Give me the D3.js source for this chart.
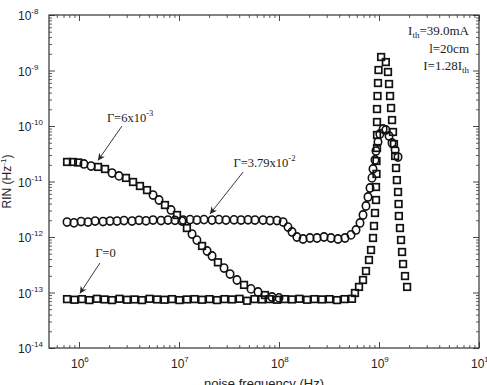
<!DOCTYPE html>
<html>
<head>
<meta charset="utf-8">
<script src="https://cdn.jsdelivr.net/npm/d3@7"></script>
<style>
  body { margin: 0; background: #fff; }
  svg { display: block; }
</style>
</head>
<body>
<div id="chart"></div>
<script>
'use strict'

// Γ = 0 (squares): flat floor then the relaxation oscillation peak
const gamma0 = [
  [7.59e5, 7.6e-14], [9.02e5, 7.4e-14], [1.07e6, 7.6e-14], [1.27e6, 7.3e-14], [1.51e6, 7.7e-14],
  [1.80e6, 7.5e-14], [2.14e6, 7.3e-14], [2.54e6, 7.7e-14], [3.02e6, 7.4e-14], [3.59e6, 7.5e-14],
  [4.27e6, 7.3e-14], [5.07e6, 7.7e-14], [6.03e6, 7.5e-14], [7.16e6, 7.4e-14], [8.51e6, 7.6e-14],
  [1.01e7, 7.3e-14], [1.20e7, 7.5e-14], [1.43e7, 7.6e-14], [1.70e7, 7.4e-14], [2.02e7, 7.6e-14],
  [2.40e7, 7.3e-14], [2.85e7, 7.6e-14], [3.39e7, 7.5e-14], [4.03e7, 7.7e-14], [4.79e7, 7.1e-14],
  [5.69e7, 7.6e-14], [6.76e7, 7.5e-14], [8.04e7, 7.6e-14], [9.55e7, 7.4e-14], [1.14e8, 7.6e-14],
  [1.35e8, 7.5e-14], [1.60e8, 7.7e-14], [1.91e8, 7.4e-14], [2.26e8, 7.6e-14], [2.69e8, 7.5e-14],
  [3.20e8, 7.6e-14], [3.80e8, 7.3e-14], [4.52e8, 7.6e-14], [5.37e8, 7.7e-14],
  [5.75e8, 9.8e-14], [6.31e8, 1.26e-13], [6.92e8, 1.68e-13], [7.41e8, 2.44e-13], [7.94e8, 3.85e-13],
  [8.32e8, 5.83e-13], [8.71e8, 9.6e-13], [8.91e8, 1.58e-12], [9.12e8, 2.71e-12], [9.33e8, 4.64e-12],
  [9.33e8, 7.96e-12], [9.44e8, 1.37e-11], [9.44e8, 2.34e-11], [9.55e8, 4.01e-11], [9.55e8, 6.88e-11],
  [9.55e8, 1.18e-10], [9.55e8, 2.02e-10], [9.66e8, 3.47e-10], [9.77e8, 5.95e-10], [9.89e8, 1.02e-9],
  [1.05e9, 1.75e-9], [1.17e9, 1.42e-9], [1.23e9, 9.4e-10], [1.26e9, 5.71e-10], [1.29e9, 3.47e-10],
  [1.32e9, 2.11e-10], [1.35e9, 1.28e-10], [1.38e9, 7.80e-11], [1.41e9, 4.74e-11], [1.45e9, 2.88e-11],
  [1.48e9, 1.75e-11], [1.51e9, 1.06e-11], [1.55e9, 6.47e-12], [1.57e9, 3.93e-12], [1.58e9, 2.39e-12],
  [1.62e9, 1.45e-12], [1.66e9, 8.83e-13], [1.70e9, 5.37e-13], [1.74e9, 3.26e-13], [1.82e9, 1.98e-13],
  [1.91e9, 1.26e-13]
]

// Γ = 6x10^-3: two overlapping runs, one drawn as squares, one as circles
const gamma6Sq = [
  [7.6e5, 2.25e-11], [8.7e5, 2.25e-11], [9.8e5, 2.2e-11], [1.55e6, 1.83e-11], [1.82e6, 1.68e-11],
  [2.95e6, 1.16e-11], [3.47e6, 9.8e-12], [4.07e6, 8.3e-12], [4.79e6, 7.0e-12], [7.24e6, 3.77e-12],
  [9.55e6, 2.49e-12], [1.20e7, 1.45e-12], [1.70e7, 6.9e-13], [2.45e7, 3.5e-13], [4.47e7, 1.37e-13],
  [7.24e7, 9.0e-14]
]
const gamma6Ci = [
  [1.12e6, 2.07e-11], [1.32e6, 1.90e-11], [2.14e6, 1.42e-11], [2.51e6, 1.26e-11], [5.5e6, 5.7e-12],
  [6.31e6, 4.64e-12], [8.32e6, 3.07e-12], [1.07e7, 1.94e-12], [1.35e7, 1.13e-12], [1.51e7, 8.8e-13],
  [1.91e7, 5.6e-13], [2.14e7, 4.55e-13], [2.82e7, 2.76e-13], [3.24e7, 2.15e-13], [3.80e7, 1.68e-13],
  [5.25e7, 1.16e-13], [6.17e7, 1.02e-13], [8.51e7, 8.3e-14], [1.0e8, 8.0e-14]
]

// Γ = 3.79x10^-2 (circles)
const gamma379 = [
  [7.59e5, 1.86e-12], [8.91e5, 1.80e-12], [1.05e6, 1.90e-12], [1.23e6, 1.86e-12], [1.45e6, 1.94e-12],
  [1.74e6, 1.90e-12], [2.04e6, 1.94e-12], [2.40e6, 1.94e-12], [2.82e6, 1.98e-12], [3.39e6, 1.94e-12],
  [3.98e6, 2.0e-12], [4.68e6, 1.96e-12], [5.50e6, 2.02e-12], [6.61e6, 1.98e-12], [7.76e6, 2.02e-12],
  [9.12e6, 2.0e-12], [1.10e7, 2.02e-12], [1.29e7, 2.06e-12], [1.51e7, 2.02e-12], [1.78e7, 2.06e-12],
  [2.14e7, 2.02e-12], [2.51e7, 2.06e-12], [2.95e7, 2.02e-12], [3.55e7, 2.04e-12], [4.17e7, 2.02e-12],
  [4.90e7, 2.04e-12], [5.75e7, 2.02e-12], [6.92e7, 2.02e-12], [8.13e7, 1.98e-12], [9.55e7, 1.98e-12],
  [1.10e8, 1.86e-12], [1.23e8, 1.51e-12], [1.35e8, 1.23e-12], [1.51e8, 1.00e-12], [1.74e8, 9.2e-13],
  [2.04e8, 9.6e-13], [2.40e8, 9.6e-13], [2.82e8, 1.00e-12], [3.31e8, 9.6e-13], [3.89e8, 9.2e-13],
  [4.57e8, 9.6e-13], [5.25e8, 1.09e-12], [5.89e8, 1.34e-12], [6.46e8, 1.79e-12], [6.92e8, 2.49e-12],
  [7.41e8, 3.62e-12], [7.76e8, 5.26e-12], [8.13e8, 7.64e-12], [8.51e8, 1.16e-11], [8.71e8, 1.68e-11],
  [9.12e8, 2.44e-11], [9.33e8, 3.54e-11], [9.77e8, 5.15e-11], [1.02e9, 7.18e-11], [1.10e9, 8.83e-11],
  [1.17e9, 8.47e-11], [1.26e9, 6.60e-11], [1.35e9, 4.94e-11], [1.45e9, 3.69e-11], [1.55e9, 2.76e-11]
]

const xDecades = [6, 7, 8, 9, 10]
const yDecades = [-8, -9, -10, -11, -12, -13, -14]

// annotations: label, text anchor point, arrow tail and tip (data coordinates)
const notes = [
  {base: 'Γ=6x10', sup: '-3', at: [1.9e6, 1.2e-10], from: [2.69e6, 1.0e-10], to: [1.55e6, 2.4e-11]},
  {base: 'Γ=3.79x10', sup: '-2', at: [3.5e7, 1.82e-11], from: [4.37e7, 1.48e-11], to: [2.04e7, 2.6e-12]},
  {base: 'Γ=0', sup: '', at: [1.45e6, 4.4e-13], from: [1.62e6, 3.4e-13], to: [1.02e6, 9.6e-14]}
]
const paramLines = [
  ['I', 'th', '=39.0mA'],
  ['l=20cm', '', ''],
  ['I=1.28I', 'th', '']
]

const W = 487, H = 385
const margin = {left: 49, right: 8, top: 15, bottom: 37}

const x = d3.scaleLog().domain([Math.pow(10, 5.7), 1e10]).range([margin.left, W - margin.right])
const y = d3.scaleLog().domain([1e-14, 1e-8]).range([H - margin.bottom, margin.top])

const svg = d3.select('#chart').append('svg')
    .attr('width', W)
    .attr('height', H)

const x0 = x.range()[0], x1 = x.range()[1]
const y0 = y.range()[0], y1 = y.range()[1]

// minor tick values for each decade
const minorVals = (lo, hi) => {
  let out = []
  for (let e = lo; e <= hi; e++) {
    for (let m = 2; m <= 9; m++) out.push(m * Math.pow(10, e))
  }
  return out
}
const xMajor = xDecades.map(e => Math.pow(10, e))
const xMinor = minorVals(5, 9).filter(v => v >= x.domain()[0] && v <= x.domain()[1])
const yMajor = yDecades.map(e => Math.pow(10, e))
const yMinor = minorVals(-14, -9)

// ticks pointing in, on all four sides
const axes = [
  [d3.axisBottom(x), `translate(0,${y0})`, xMajor, xMinor],
  [d3.axisTop(x), `translate(0,${y1})`, xMajor, xMinor],
  [d3.axisLeft(y), `translate(${x0},0)`, yMajor, yMinor],
  [d3.axisRight(y), `translate(${x1},0)`, yMajor, yMinor]
]
axes.forEach(([ax, tr, major, minor]) => {
  svg.append('g').attr('transform', tr)
      .call(ax.tickValues(minor).tickSize(-3).tickSizeOuter(0).tickFormat(''))
      .call(g => g.select('.domain').remove())
      .call(g => g.selectAll('line').attr('stroke', '#333').attr('stroke-width', 0.8))
  svg.append('g').attr('transform', tr)
      .call(ax.tickValues(major).tickSize(-6).tickSizeOuter(0).tickFormat(''))
      .call(g => g.select('.domain').remove())
      .call(g => g.selectAll('line').attr('stroke', '#333').attr('stroke-width', 0.9))
})

svg.append('rect')
    .attr('x', x0).attr('y', y1)
    .attr('width', x1 - x0).attr('height', y0 - y1)
    .attr('fill', 'none')
    .attr('stroke', '#333')
    .attr('stroke-width', 1.2)

// tick labels 10^n
const tickFont = '"Liberation Sans", Arial, sans-serif'
xDecades.forEach(e => {
  const t = svg.append('text')
      .attr('x', x(Math.pow(10, e)) - 8)
      .attr('y', y0 + 20)
      .attr('font-family', tickFont)
      .attr('font-size', 12)
      .attr('fill', '#222')
      .text('10')
  t.append('tspan').attr('dy', -6).attr('font-size', 8).text(e)
})
yDecades.forEach(e => {
  const t = svg.append('text')
      .attr('x', x0 - 31)
      .attr('y', y(Math.pow(10, e)) + 5)
      .attr('font-family', tickFont)
      .attr('font-size', 12)
      .attr('fill', '#222')
      .text('10')
  t.append('tspan').attr('dy', -6).attr('font-size', 8).text(e)
})

// axis titles
svg.append('text')
    .attr('x', (x0 + x1) / 2)
    .attr('y', H + 3)
    .attr('text-anchor', 'middle')
    .attr('font-family', tickFont)
    .attr('font-size', 13)
    .attr('fill', '#222')
    .text('noise frequency (Hz)')

const yl = svg.append('text')
    .attr('transform', `translate(11,${(y0 + y1) / 2}) rotate(-90)`)
    .attr('text-anchor', 'middle')
    .attr('font-family', tickFont)
    .attr('font-size', 12)
    .attr('fill', '#222')
    .text('RIN (Hz')
yl.append('tspan').attr('dy', -5).attr('font-size', 8).text('-1')
yl.append('tspan').attr('dy', 5).text(')')

// markers
const sq = 6.6, rr = 3.7
const drawSquares = data => svg.append('g')
    .attr('fill', 'none').attr('stroke', '#111').attr('stroke-width', 1.7)
  .selectAll('rect').data(data).join('rect')
    .attr('x', d => x(d[0]) - sq / 2)
    .attr('y', d => y(d[1]) - sq / 2)
    .attr('width', sq).attr('height', sq)
const drawCircles = data => svg.append('g')
    .attr('fill', 'none').attr('stroke', '#111').attr('stroke-width', 1.6)
  .selectAll('ellipse').data(data).join('ellipse')
    .attr('cx', d => x(d[0]))
    .attr('cy', d => y(d[1]))
    .attr('rx', rr).attr('ry', rr + 0.4)

drawSquares(gamma0)
drawCircles(gamma379)
drawSquares(gamma6Sq)
drawCircles(gamma6Ci)

// annotations with arrows
svg.append('defs').append('marker')
    .attr('id', 'head')
    .attr('viewBox', '0 0 10 10')
    .attr('refX', 10).attr('refY', 5)
    .attr('markerWidth', 9).attr('markerHeight', 7)
    .attr('markerUnits', 'userSpaceOnUse')
    .attr('orient', 'auto')
  .append('path')
    .attr('d', 'M0,0L10,5L0,10L3,5Z')
    .attr('fill', '#222')

const serif = '"Liberation Serif", "Times New Roman", serif'
notes.forEach(n => {
  const t = svg.append('text')
      .attr('x', x(n.at[0]))
      .attr('y', y(n.at[1]))
      .attr('font-family', serif)
      .attr('font-size', 12.5)
      .attr('fill', '#222')
      .text(n.base)
  if (n.sup) t.append('tspan').attr('dy', -6).attr('font-size', 8.5).text(n.sup)
  svg.append('line')
      .attr('x1', x(n.from[0])).attr('y1', y(n.from[1]))
      .attr('x2', x(n.to[0])).attr('y2', y(n.to[1]))
      .attr('stroke', '#222').attr('stroke-width', 0.9)
      .attr('marker-end', 'url(#head)')
})

// parameters, top right
paramLines.forEach((p, i) => {
  const t = svg.append('text')
      .attr('x', x1 - 10)
      .attr('y', y1 + 20 + i * 17.5)
      .attr('text-anchor', 'end')
      .attr('font-family', serif)
      .attr('font-size', 13)
      .attr('fill', '#222')
      .text(p[0])
  if (p[1]) {
    t.append('tspan').attr('dy', 3).attr('font-size', 9).text(p[1])
    if (p[2]) t.append('tspan').attr('dy', -3).text(p[2])
  }
})
</script>
</body>
</html>
